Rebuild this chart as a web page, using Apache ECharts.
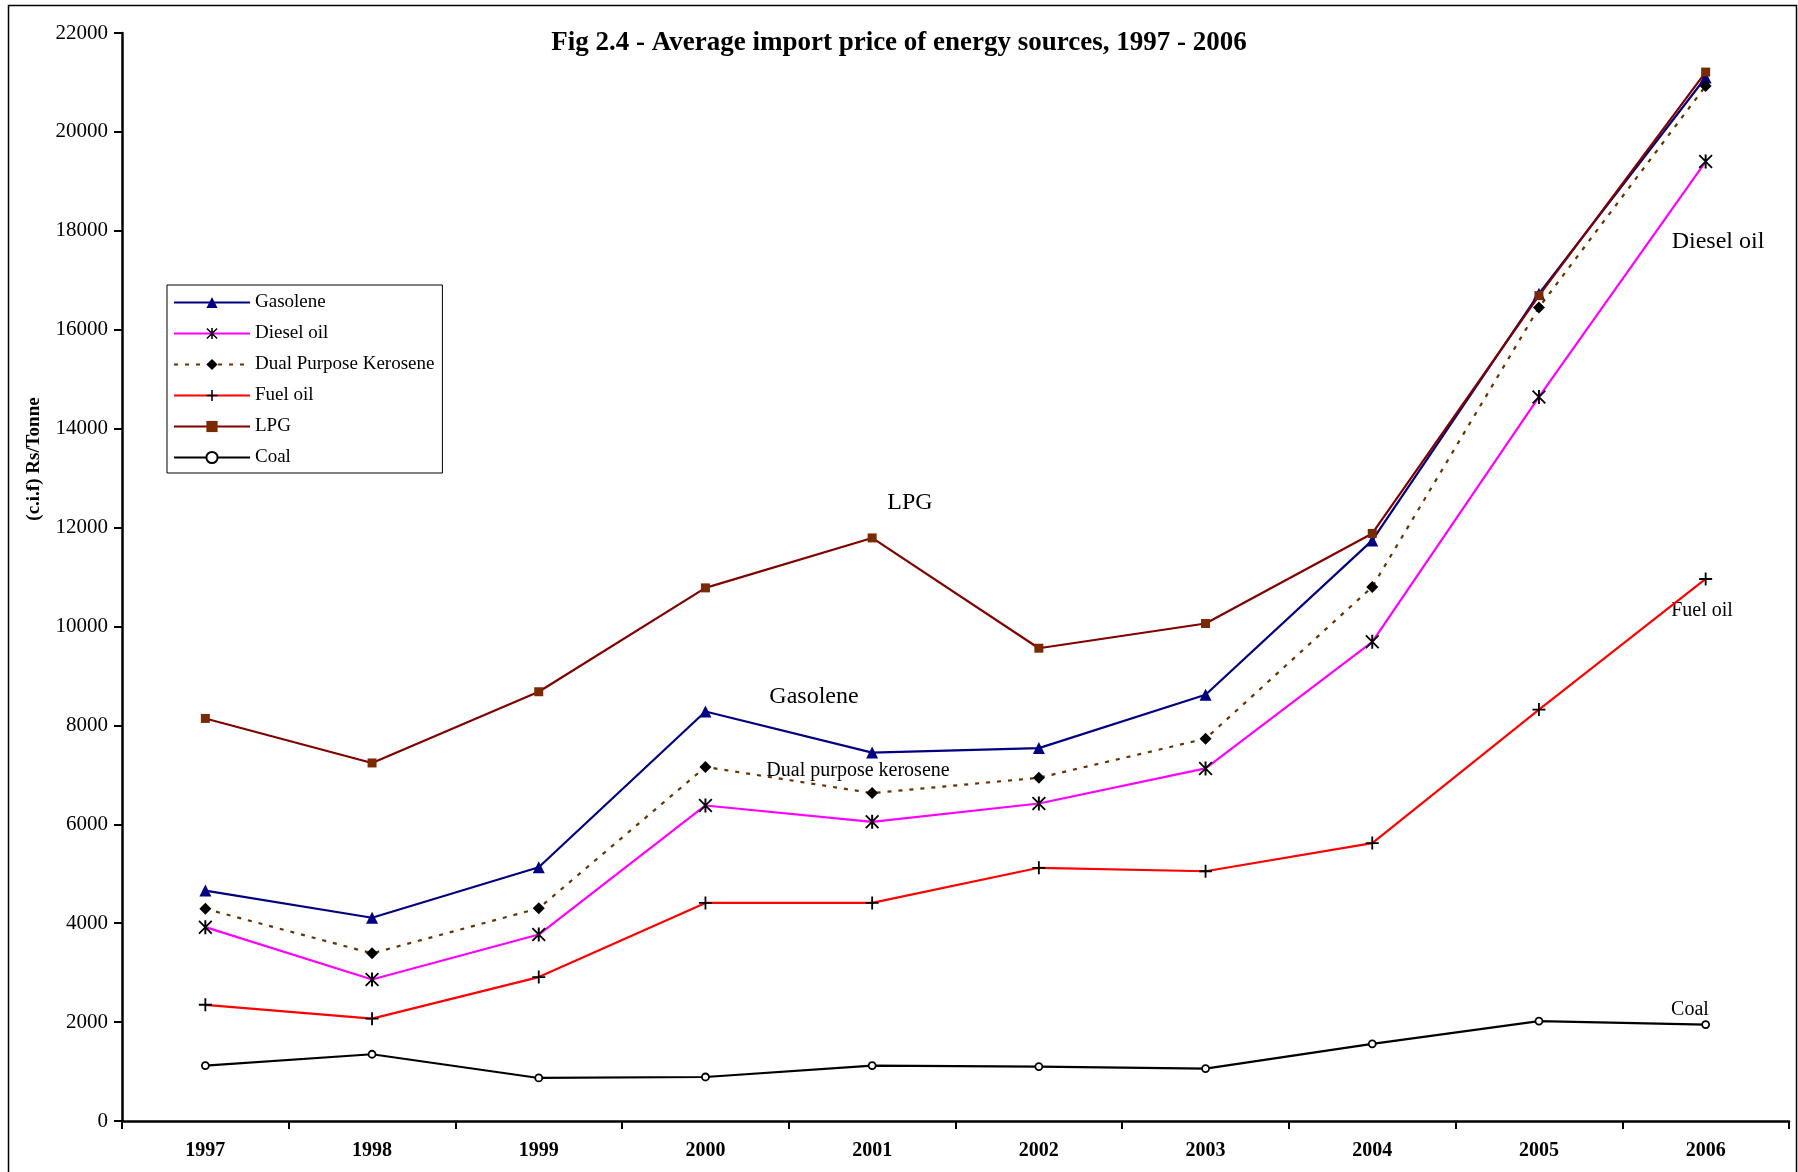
<!DOCTYPE html>
<html>
<head>
<meta charset="utf-8">
<script src="https://cdn.jsdelivr.net/npm/echarts@6/dist/echarts.min.js"></script>
<style>
html,body{margin:0;padding:0;background:#fff;}
#main{width:1798px;height:1172px;}
</style>
</head>
<body>
<div id="main"></div>
<script>
var years = ['1997','1998','1999','2000','2001','2002','2003','2004','2005','2006'];
var gasolene = [4660, 4110, 5130, 8280, 7450, 7540, 8620, 11740, 16730, 21100];
var diesel = [3920, 2860, 3770, 6380, 6050, 6420, 7130, 9690, 14640, 19400];
var kerosene = [4290, 3390, 4300, 7160, 6630, 6940, 7730, 10800, 16450, 20930];
var fuelOil = [2350, 2070, 2910, 4410, 4410, 5120, 5050, 5620, 8320, 10960];
var lpg = [8140, 7240, 8680, 10780, 11790, 9560, 10060, 11880, 16690, 21210];
var coal = [1120, 1350, 870, 890, 1120, 1100, 1060, 1560, 2020, 1950];
var seriesNames = ['Gasolene','Diesel oil','Dual Purpose Kerosene','Fuel oil','LPG','Coal'];

var FONT = '"Liberation Serif", "DejaVu Serif", serif';
var asterisk = 'path://M4.3,0 L5.7,0 L5.7,10 L4.3,10 Z M0,0.9 L0.9,0 L10,9.1 L9.1,10 Z M9.1,0 L10,0.9 L0.9,10 L0,9.1 Z';
var plus = 'path://M4.3,0 L5.7,0 L5.7,10 L4.3,10 Z M0,4.3 L10,4.3 L10,5.7 L0,5.7 Z';

function mk(name, data, lineColor, lineType, symbol, symbolSize, symColor, borderColor) {
  return {
    name: name, type: 'line', data: data,
    symbol: symbol, symbolSize: symbolSize, showAllSymbol: true,
    lineStyle: {color: lineColor, width: 2.2, type: lineType},
    itemStyle: {color: symColor, borderColor: borderColor || symColor, borderWidth: borderColor ? 1.8 : 0},
    emphasis: {disabled: true},
    animation: false
  };
}

function txt(s, x, y, size, rot) {
  return {type: 'text', x: x, y: y, rotation: rot || 0,
    style: {text: s, font: size + 'px ' + FONT, fill: '#000', textAlign: 'center', textVerticalAlign: 'middle'}};
}

var chart = echarts.init(document.getElementById('main'), null, {renderer: 'canvas'});
chart.setOption({
  backgroundColor: '#fff',
  animation: false,
  title: {
    text: 'Fig 2.4 - Average import price of energy sources, 1997 - 2006',
    left: 'center', top: 25,
    textStyle: {fontFamily: FONT, fontSize: 27, fontWeight: 'bold', color: '#000'}
  },
  legend: {
    orient: 'vertical', left: 167, top: 285,
    padding: [8, 8, 6, 6],
    itemWidth: 76, itemHeight: 14, itemGap: 12, itemTextGap: 3,
    borderColor: '#000', borderWidth: 1, backgroundColor: '#fff',
    data: seriesNames,
    textStyle: {fontFamily: FONT, fontSize: 19, color: '#000'}
  },
  grid: {left: 122, right: 9, top: 33, bottom: 51, containLabel: false},
  xAxis: {
    type: 'category', data: years, boundaryGap: true,
    axisLine: {lineStyle: {color: '#000', width: 2.5}},
    axisTick: {show: true, length: 8, lineStyle: {color: '#000', width: 2}},
    axisLabel: {fontFamily: FONT, fontSize: 20, fontWeight: 'bold', color: '#000', margin: 20},
    splitLine: {show: false}
  },
  yAxis: {
    type: 'value', min: 0, max: 22000, interval: 2000,
    axisLine: {show: true, lineStyle: {color: '#000', width: 2.5}},
    axisTick: {show: true, length: 8, lineStyle: {color: '#000', width: 2}},
    axisLabel: {fontFamily: FONT, fontSize: 21, color: '#000', margin: 14,
      formatter: function (v) { return String(v); }},
    splitLine: {show: false}
  },
  series: [
    mk('Gasolene', gasolene, '#000080', 'solid', 'triangle', 12, '#000080'),
    mk('Diesel oil', diesel, '#FF00FF', 'solid', asterisk, 14, '#000'),
    mk('Dual Purpose Kerosene', kerosene, '#663300', [4, 7], 'diamond', 12, '#000'),
    mk('Fuel oil', fuelOil, '#FF0000', 'solid', plus, 13, '#000'),
    mk('LPG', lpg, '#800000', 'solid', 'rect', 9, '#7a2a00'),
    mk('Coal', coal, '#000', 'solid', 'circle', 7, '#fff', '#000')
  ],
  graphic: [
    {type: 'rect', shape: {x: 8.5, y: 5.5, width: 1788, height: 1200}, style: {fill: 'none', stroke: '#000', lineWidth: 1.5}, silent: true, z: -1},
    {type: 'text', x: 34, y: 459, rotation: Math.PI / 2,
      style: {text: '(c.i.f) Rs/Tonne', font: 'bold 19px ' + FONT, fill: '#000', textAlign: 'center', textVerticalAlign: 'middle'}},
    txt('LPG', 910, 503, 24),
    txt('Gasolene', 814, 697, 24),
    txt('Dual purpose kerosene', 858, 771, 20),
    txt('Diesel oil', 1718, 242, 24),
    txt('Fuel oil', 1702, 611, 20),
    txt('Coal', 1690, 1010, 20)
  ]
});
</script>
</body>
</html>
